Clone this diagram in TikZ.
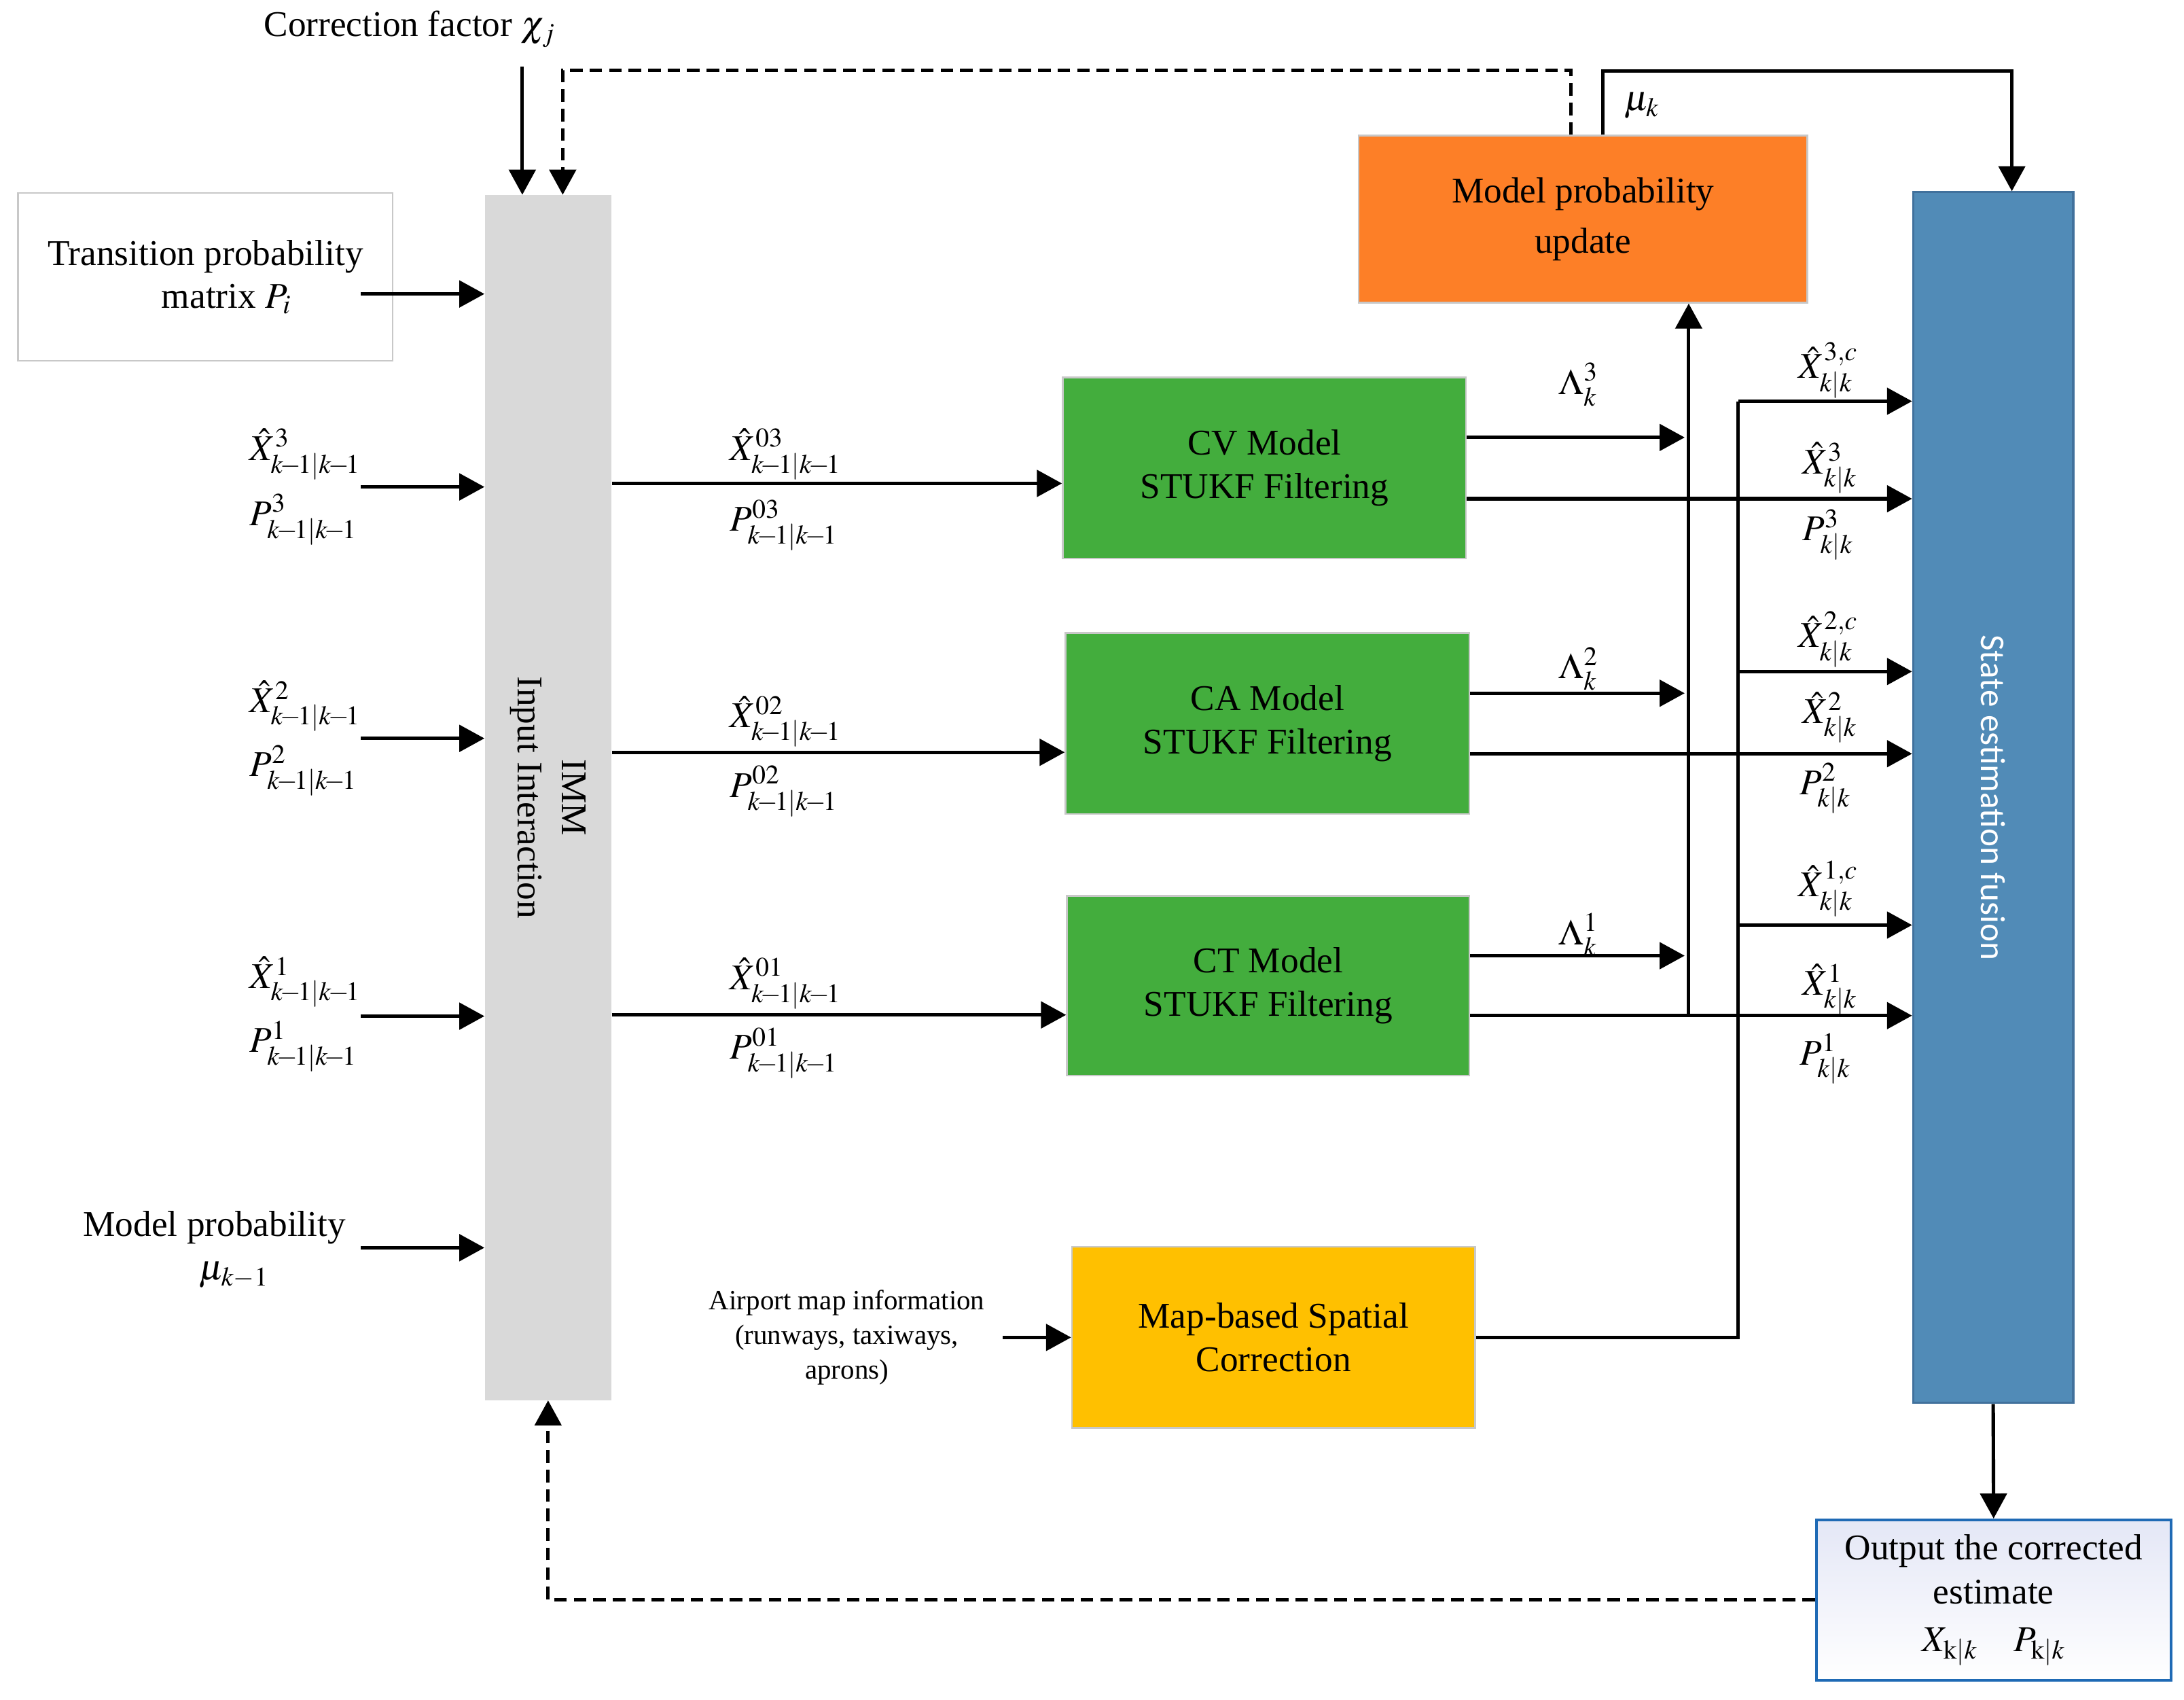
\documentclass[tikz,border=0pt]{standalone}
\usepackage{mathptmx}
\usepackage[no-math]{fontspec}
\setmainfont{Liberation Serif}
\newfontfamily\sansf{Carlito}
\usetikzlibrary{arrows.meta,calc}
\definecolor{boxgray}{RGB}{200,200,200}
\definecolor{immgray}{RGB}{217,217,217}
\definecolor{mgreen}{RGB}{67,173,61}
\definecolor{morange}{RGB}{253,127,39}
\definecolor{myellow}{RGB}{255,192,0}
\definecolor{fusblue}{RGB}{81,139,183}
\definecolor{fusborder}{RGB}{65,113,156}
\definecolor{outborder}{RGB}{31,106,181}
\definecolor{outfill}{RGB}{228,231,246}
\newcommand{\mainsz}{\fontsize{26}{31}\selectfont}
\newcommand{\smallsz}{\fontsize{20}{25}\selectfont}
\newcommand{\kk}{k\mkern-2mu-\mkern-2mu1|k\mkern-2mu-\mkern-2mu1}
\begin{document}
\begin{tikzpicture}[x=1pt,y=-1pt,
  arr/.style={-{Triangle[length=18pt,width=19pt]}, line width=2.5pt},
  plain/.style={line width=2.5pt},
  dasharr/.style={arr, dash pattern=on 9pt off 5pt},
  box/.style={draw=boxgray, line width=1.2pt, inner sep=0pt, align=center, font=\mainsz},
  lbl/.style={anchor=west, inner sep=0pt, font=\mainsz},
  txt/.style={inner sep=0pt, align=center, font=\mainsz}]
\useasboundingbox (0,0) rectangle (1568,1220);

% ---------- blocks ----------
\node[box, fill=white, minimum width=269pt, minimum height=120.5pt] (trans) at (147.5,198.75) {Transition probability\\\hspace*{30pt}matrix $P_i$};
\node[fill=immgray, inner sep=0pt, minimum width=91pt, minimum height=865pt] (imm) at (393.5,572.5) {};
\node[txt, rotate=-90, font=\fontsize{26}{32}\selectfont] (immlabel) at (imm.center) {IMM\\Input Interaction};

\node[box, fill=mgreen, minimum width=289.5pt, minimum height=130pt] (cv) at (907.8,336) {CV Model\\STUKF Filtering};
\node[box, fill=mgreen, minimum width=290pt, minimum height=130pt] (ca) at (910,519.3) {CA Model\\STUKF Filtering};
\node[box, fill=mgreen, minimum width=289pt, minimum height=129pt] (ct) at (910.5,707.5) {CT Model\\STUKF Filtering};
\node[box, fill=myellow, minimum width=289.4pt, minimum height=130pt] (map) at (914.3,960) {Map-based Spatial\\Correction};
\node[box, fill=morange, minimum width=322pt, minimum height=120pt, font=\fontsize{26}{36}\selectfont] (mpu) at (1136.5,157.3) {Model probability\\update};

\node[draw=fusborder, fill=fusblue, line width=1.5pt, inner sep=0pt, minimum width=115pt, minimum height=869pt] (fus) at (1431,572.5) {};
\node[inner sep=0pt, rotate=-90, text=white, font=\sansf\fontsize{25}{30}\selectfont] (fuslabel) at (fus.center) {State estimation fusion};

\node[draw=outborder, line width=2pt, top color=outfill, bottom color=white, inner sep=0pt, align=center, font=\fontsize{26}{32}\selectfont, minimum width=254.7pt, minimum height=115pt] (out) at (1431.3,1148.5) {Output the corrected\\estimate\\[2pt]$X_{\mathrm{k}|k}\quad P_{\mathrm{k}|k}$};

% ---------- free texts ----------
\node[txt] (corr) at (294,21) {Correction factor $\chi_j$};
\node[txt] (mpin) at (154,897) {Model probability\\\hspace*{28pt}$\mu_{k-1}$};
\node[inner sep=0pt, align=center, font=\smallsz] (apt) at (608,960) {Airport map information\\(runways, taxiways,\\aprons)};

% ---------- left input labels ----------
\node[lbl] (lx3) at (179,326) {$\hat{X}^{3}_{\kk}$};
\node[lbl] (lp3) at (179,373) {$P^{3}_{\kk}$};
\node[lbl] (lx2) at (179,507) {$\hat{X}^{2}_{\kk}$};
\node[lbl] (lp2) at (179,553) {$P^{2}_{\kk}$};
\node[lbl] (lx1) at (179,705) {$\hat{X}^{1}_{\kk}$};
\node[lbl] (lp1) at (179,751) {$P^{1}_{\kk}$};

% ---------- mixed estimate labels ----------
\node[lbl] (mx3) at (524,326) {$\hat{X}^{03}_{\kk}$};
\node[lbl] (mp3) at (524,377) {$P^{03}_{\kk}$};
\node[lbl] (mx2) at (524,518) {$\hat{X}^{02}_{\kk}$};
\node[lbl] (mp2) at (524,568) {$P^{02}_{\kk}$};
\node[lbl] (mx1) at (524,706) {$\hat{X}^{01}_{\kk}$};
\node[lbl] (mp1) at (524,756) {$P^{01}_{\kk}$};

% ---------- likelihood labels ----------
\node[lbl] (l3) at (1119,276) {$\Lambda^{3}_{k}$};
\node[lbl] (l2) at (1119,480) {$\Lambda^{2}_{k}$};
\node[lbl] (l1) at (1119,671) {$\Lambda^{1}_{k}$};

% ---------- output labels ----------
\node[lbl] (o3c) at (1291,266) {$\hat{X}^{3,c}_{k|k}$};
\node[lbl] (o3x) at (1294,336) {$\hat{X}^{3}_{k|k}$};
\node[lbl] (o3p) at (1294,384) {$P^{3}_{k|k}$};
\node[lbl] (o2c) at (1291,459) {$\hat{X}^{2,c}_{k|k}$};
\node[lbl] (o2x) at (1294,515) {$\hat{X}^{2}_{k|k}$};
\node[lbl] (o2p) at (1292,566) {$P^{2}_{k|k}$};
\node[lbl] (o1c) at (1291,638) {$\hat{X}^{1,c}_{k|k}$};
\node[lbl] (o1x) at (1294,710) {$\hat{X}^{1}_{k|k}$};
\node[lbl] (o1p) at (1292,760) {$P^{1}_{k|k}$};
\node[lbl] (muk) at (1166,76) {$\mu_{k}$};

% ---------- coordinates ----------
\coordinate (cf) at (375,48);
\coordinate (tp) at (259,211);
\coordinate (in3) at (259,349.5);
\coordinate (in2) at (259,530);
\coordinate (in1) at (259,729.4);
\coordinate (inm) at (259,895.6);
\coordinate (ap) at (720,960);
\coordinate (d1) at (1128,50.4);
\coordinate (d2) at (404,50.4);
\coordinate (mu1) at (1150.6,50.9);
\coordinate (mu2) at (1444.4,50.9);
\coordinate (lam) at (1212.4,729);
\coordinate (lamtip) at (1209.5,729);
\coordinate (mc) at (1248,288);

% ---------- connectors ----------
\draw[arr] (cf) -- (imm.north -| cf);
\draw[dasharr] (mpu.north -| d1) -- (d1) -- (d2) -- (imm.north -| d2);
\draw[arr] (tp) -- (imm.west |- tp);
\draw[arr] (in3) -- (imm.west |- in3);
\draw[arr] (in2) -- (imm.west |- in2);
\draw[arr] (in1) -- (imm.west |- in1);
\draw[arr] (inm) -- (imm.west |- inm);

\draw[arr] (imm.east |- 0,347) -- (cv.west |- 0,347);
\draw[arr] (imm.east |- 0,540) -- (ca.west |- 0,540);
\draw[arr] (imm.east |- 0,728.5) -- (ct.west |- 0,728.5);

\draw[arr] (cv.east |- 0,314) -- (lamtip |- 0,314);
\draw[arr] (ca.east |- 0,497.6) -- (lamtip |- 0,497.6);
\draw[arr] (ct.east |- 0,686) -- (lamtip |- 0,686);
\draw[arr] (lam) -- (mpu.south -| lam);

\draw[arr] (cv.east |- 0,358) -- (fus.west |- 0,358);
\draw[arr] (ca.east |- 0,541) -- (fus.west |- 0,541);
\draw[arr] (ct.east |- 0,729) -- (fus.west |- 0,729);

\draw[arr] (ap) -- (map.west);
\draw[plain] (map.east) -| (mc);
\draw[arr] (mc) -- (fus.west |- mc);
\draw[arr] (mc |- 0,482) -- (fus.west |- 0,482);
\draw[arr] (mc |- 0,664) -- (fus.west |- 0,664);

\draw[arr] (mpu.north -| mu1) -- (mu1) -- (mu2) -- (fus.north -| mu2);
\draw[arr] (fus.south) -- (out.north);
\draw[dasharr] (out.west) -| (imm.south);
\end{tikzpicture}
\end{document}
